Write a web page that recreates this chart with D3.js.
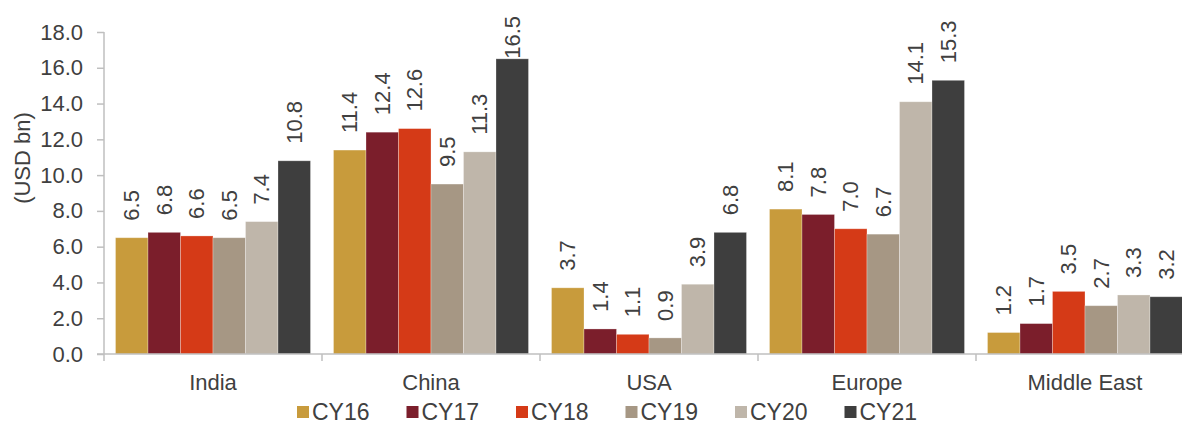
<!DOCTYPE html>
<html>
<head>
<meta charset="utf-8">
<script src="https://cdn.jsdelivr.net/npm/d3@7"></script>
<style>
  html, body { margin: 0; padding: 0; background: #fff; }
  svg { display: block; }
  text { font-family: "Liberation Sans", Arial, sans-serif; fill: #404040; }
</style>
</head>
<body>
<svg id="chart" width="1182" height="426"></svg>
<script>
const categories = ["India", "China", "USA", "Europe", "Middle East"];
const seriesNames = ["CY16", "CY17", "CY18", "CY19", "CY20", "CY21"];
const CY16 = [6.5, 11.4, 3.7, 8.1, 1.2];
const CY17 = [6.8, 12.4, 1.4, 7.8, 1.7];
const CY18 = [6.6, 12.6, 1.1, 7.0, 3.5];
const CY19 = [6.5, 9.5, 0.9, 6.7, 2.7];
const CY20 = [7.4, 11.3, 3.9, 14.1, 3.3];
const CY21 = [10.8, 16.5, 6.8, 15.3, 3.2];
const yTicks = [0, 2, 4, 6, 8, 10, 12, 14, 16, 18];
const colors = ["#C89B3C", "#7B1E2B", "#D53A17", "#A69784", "#BFB6AA", "#3E3E3E"];

const seriesValues = [CY16, CY17, CY18, CY19, CY20, CY21];

(function () {
const svg = d3.select("#chart");
const mLeft = 104, mTop = 32, mBottom = 354, stepW = 218;
const mRight = mLeft + stepW * categories.length;

const y = d3.scaleLinear().domain([0, 18]).range([mBottom, mTop]);
const x0 = d3.scaleBand().domain(categories).range([mLeft, mRight]).paddingInner(0).paddingOuter(0);
const x1 = d3.scaleBand().domain(seriesNames).range([11.5, stepW - 11.5]).padding(0);

// Y axis
const yAxis = d3.axisLeft(y).tickValues(yTicks).tickFormat(d3.format(".1f")).tickSize(7).tickPadding(14);
const gy = svg.append("g").attr("transform", `translate(${mLeft},0)`).call(yAxis);
gy.select(".domain").remove();
gy.selectAll(".tick line").attr("stroke", "#bfbfbf").attr("stroke-width", 1.5);
gy.selectAll(".tick text").style("font-size", "22px").style("font-family", "'Liberation Sans', Arial, sans-serif").attr("fill", "#404040");
svg.append("line").attr("x1", mLeft).attr("x2", mLeft).attr("y1", mTop).attr("y2", mBottom + 7)
  .attr("stroke", "#bfbfbf").attr("stroke-width", 1.5);

// Bars
const groups = svg.append("g").selectAll("g").data(categories).join("g")
  .attr("transform", d => `translate(${x0(d)},0)`);
groups.selectAll("rect").data((c, ci) => seriesNames.map((s, si) => ({ s, si, v: seriesValues[si][ci] })))
  .join("rect")
  .attr("x", d => x1(d.s))
  .attr("width", x1.bandwidth())
  .attr("y", d => y(d.v))
  .attr("height", d => mBottom - y(d.v))
  .attr("fill", d => colors[d.si])
  .attr("stroke", "rgba(255,255,255,0.35)")
  .attr("stroke-width", 0.8);

// Data labels
groups.selectAll("text.lbl").data((c, ci) => seriesNames.map((s, si) => ({ s, si, v: seriesValues[si][ci] })))
  .join("text")
  .attr("class", "lbl")
  .style("font-size", "22px")
  .attr("text-anchor", "start")
  .attr("dominant-baseline", "central")
  .text(d => d.v.toFixed(1))
  .each(function (d) {
    const len = this.getComputedTextLength();
    let yb = y(d.v) - 17;
    if (yb - len < 16) yb = 16 + len;
    const cx = x1(d.s) + x1.bandwidth() / 2;
    d3.select(this).attr("transform", `translate(${cx},${yb}) rotate(-90)`);
  });

// Baseline and category ticks
svg.append("line").attr("x1", mLeft - 7).attr("x2", 1182).attr("y1", mBottom).attr("y2", mBottom)
  .attr("stroke", "#bfbfbf").attr("stroke-width", 1.5);
categories.slice(1).forEach(c => {
  svg.append("line").attr("x1", x0(c)).attr("x2", x0(c)).attr("y1", mBottom).attr("y2", mBottom + 7)
    .attr("stroke", "#bfbfbf").attr("stroke-width", 1.5);
});

// Category labels
svg.append("g").selectAll("text").data(categories).join("text")
  .attr("x", d => x0(d) + stepW / 2)
  .attr("y", 390)
  .attr("text-anchor", "middle")
  .style("font-size", "22px")
  .text(d => d);

// Y title
svg.append("text")
  .attr("transform", "translate(30,158) rotate(-90)")
  .attr("text-anchor", "middle")
  .style("font-size", "22px")
  .text("(USD bn)");

// Legend
const lg = svg.append("g").selectAll("g").data(seriesNames).join("g")
  .attr("transform", (d, i) => `translate(${297 + i * 109.5},0)`);
lg.append("rect").attr("x", 0).attr("y", 406).attr("width", 12).attr("height", 12)
  .attr("fill", (d, i) => colors[i]);
lg.append("text").attr("x", 15).attr("y", 420).style("font-size", "23px").text(d => d);
})();
</script>
</body>
</html>
